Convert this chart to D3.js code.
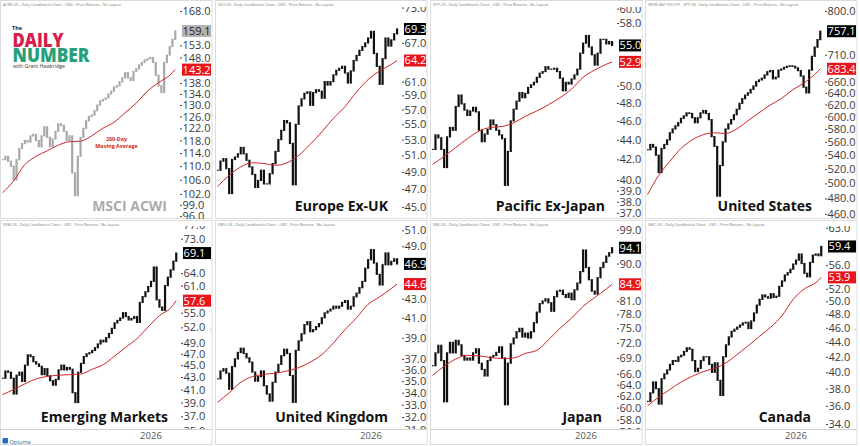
<!DOCTYPE html>
<html>
<head>
<meta charset="utf-8">
<script src="https://cdn.jsdelivr.net/npm/d3@7"></script>
<style>
  body { margin: 0; background: #fff; }
  svg { display: block; font-family: "Open Sans", "Noto Sans", sans-serif; }
</style>
</head>
<body>
<div id="chart-container"></div>
<script>
// ---- data ----
const startDate = "2024-07-22";
const stepDays = 10;
const xDomain = ["2024-07-20", "2026-04-20"];
const yearTick = "2026-01-01";
const maIndex = [0, 4, 8, 12, 16, 20, 24, 28, 32, 36, 40, 44, 48, 52, 56, 60, 62];

const titles = ["MSCI ACWI", "Europe Ex-UK", "Pacific Ex-Japan", "United States",
                "Emerging Markets", "United Kingdom", "Japan", "Canada"];
const headers = [
  "ACWI.US - Daily Candlestick Chart - USD - Price Returns - No Layout",
  "EZU.US - Daily Candlestick Chart - USD - Price Returns - No Layout",
  "EPP.US - Daily Candlestick Chart - USD - Price Returns - No Layout",
  "SPDR S&P 500 ETF - SPY.US - Daily Candlestick Chart - USD - Price Returns - No Layout",
  "EEM.US - Daily Candlestick Chart - USD - Price Returns - No Layout",
  "EWU.US - Daily Candlestick Chart - USD - Price Returns - No Layout",
  "EWJ.US - Daily Candlestick Chart - USD - Price Returns - No Layout",
  "EWC.US - Daily Candlestick Chart - USD - Price Returns - No Layout"
];

const acwiClose = [112,113,111.5,110,106,112,115.5,117,118,117.5,119.5,120,118,116,119.5,122.5,119,116,118.5,121,
  123.5,123,121,118,119.5,108,101.5,113,119,122,124.5,126,126.5,128,130,131.5,132,132.5,134,135,
  136.5,137,138.5,140,142,140,139,142.5,143.5,145,146,147,147.5,148,146,141,137,134.5,146,149,
  152.5,155.5,159.1];
const acwiMA = [102.3,105.7,110.5,113,114.7,116.5,117.6,117.8,119.5,122,124,127.3,130.7,135,138.2,141,143.2];

const eurClose = [49.2,50.3,50.6,49.4,46.5,50.5,50.8,51.2,52,51.2,50.4,49.6,48.7,47.2,48,49.2,47.6,47.6,48.8,50,
  51.5,53,54.2,55.5,55.2,52.5,47.5,55,57.5,58.5,59.3,59.5,57.6,59.4,59.8,59.6,58.6,61,60.5,61,
  62,62.7,63,63.3,62.3,60.8,62.6,64.2,65,65.8,66.4,67,67.8,68.9,65.3,63.3,60.6,64.5,67.8,66.5,
  67.5,68.5,69.3];
const eurMA = [47.3,48.6,49.6,50.1,50.0,49.8,50.1,51.0,52.4,54,55.8,57.4,59.5,61.3,62.6,63.6,64.2];

const pacClose = [43.0,44.5,44.2,43.0,41.2,44.3,45.3,45.0,47.6,48.9,47.9,47.2,46.6,47.1,47.5,47.0,45.0,43.8,44.6,45.1,
  46.1,45.6,45.0,44.5,44.1,39.5,42.8,46.0,47.3,48.2,49.2,48.6,49.1,49.8,50.1,50.4,51,51.5,51.7,52.3,
  52.0,52.0,52.1,51.7,50.9,49.4,50.4,50.2,50.8,51.3,52.0,54.0,55.3,56.3,54.8,53.8,52.5,54.0,55.8,55.8,
  55.2,55.5,55.0];
const pacMA = [41.5,42.3,43.2,44.1,44.9,45.3,45.4,45.8,46.5,47.1,47.8,48.6,49.6,51,51.9,52.6,52.9];

const usClose = [548,556,552,540,515,550,556,563,574,580,585,590,597,601,606,605,598,590,598,606,
  610,605,595,568,553,483,525,560,580,588,595,603,612,622,630,636,640,646,652,660,
  663,666,672,678,680,665,668,681,683,686,688,689,688,685,680,670,650,640,681,707,
  725,740,757.1];
const usMA = [485,511,531,550,563,571,574,573,580,593,606,619,630,645,657,673,683.4];

const emClose = [42.8,44.0,43.8,42.8,40.3,43.3,43.8,42.3,45.0,46.8,46.5,45.6,45.2,44.8,43.4,44.4,43.2,42.4,41.7,42.6,
  44.2,45.0,44.2,44.6,44.3,40.5,39.0,43.8,45.3,46.5,47.0,47.2,47.6,48.1,48.8,49.5,49.2,50.0,50.8,51.8,
  52.9,53.4,53.9,55.0,54.2,53.5,53.8,54.2,53.0,57.2,58.5,59.6,60.8,62.0,65.5,57.8,56.2,55.5,61.0,63.0,
  64.8,67.0,69.1];
const emMA = [40.2,41,41.9,42.7,43.1,43.3,43.4,43.5,44.3,45.1,46.6,48.2,49.8,52.1,54.4,56,57.6];

const ukClose = [35.2,35.9,36.1,35.7,34.3,36.3,37.0,37.6,38.0,37.5,37.1,36.7,35.8,35.0,35.4,35.9,34.6,33.9,33.3,34.9,
  35.8,36.5,37.3,37.9,37.5,35.5,33.2,37.8,38.7,39.4,40.3,40.6,39.6,39.8,40.1,40.4,41.0,41.5,41.7,41.9,
  42.2,42.0,42.2,42.6,42.8,41.9,42.2,43.2,43.6,44.2,44.9,46.4,47.4,48.6,47.0,45.7,44.5,46.8,48.2,46.8,
  47.2,47.5,46.9];
const ukMA = [33.2,34.0,34.9,35.4,35.6,35.7,35.9,36.2,36.7,37.4,38.5,39.8,41,42.4,43.2,44.1,44.6];

const jpClose = [67.5,70.0,71.5,68.5,61.0,70.0,72.1,70.0,72.5,71.6,69.5,68.6,69.0,68.6,70.0,70.8,68.0,66.8,65.6,68.5,
  69.2,69.5,70.1,71.2,69.0,60.5,68.0,71.8,73.0,74.3,75.0,73.2,74.0,73.0,74.3,76.2,78.5,80.4,81.0,81.5,
  80.6,78.7,82.0,83.3,83.5,82.5,81.8,82.8,81.3,83.6,85.2,88.0,93.5,89.0,86.0,83.3,82.6,86.5,89.0,90.3,
  91.9,92.8,94.1];
const jpMA = [65.7,67.4,68.8,69.5,69.4,69.1,68.9,69.0,69.9,70.5,72.6,75,77.2,79.8,81.8,83.8,84.9];

const caClose = [36.5,37.5,38.8,38.0,36.2,39.2,39.8,40.3,41.0,41.5,41.4,42.0,42.2,42.7,43.2,43.0,41.5,40.1,40.5,41.5,
  42.0,42.0,41.0,40.0,41.2,39.0,37.2,42.0,43.6,44.7,45.5,45.8,46.1,46.4,46.7,46.8,45.9,47.0,48.2,49.4,
  50.3,51.0,50.7,50.5,51.2,50.6,50.8,52.4,53.3,54.3,54.7,55.3,56.2,56.9,58.0,56.3,54.6,54.0,56.5,57.8,
  58.0,57.7,59.4];
const caMA = [36.0,37.0,37.9,38.8,39.5,40.1,40.5,41.2,42.3,43.5,44.8,46.1,47.8,50.3,52,53,53.9];

const closes = [acwiClose, eurClose, pacClose, usClose, emClose, ukClose, jpClose, caClose];
const mas = [acwiMA, eurMA, pacMA, usMA, emMA, ukMA, jpMA, caMA];
const yDomains = [[95.5,168.5],[43.82,72.57],[36.56,59.81],[455.0,802.2],
                  [35.25,75.76],[31.06,51.17],[56.5,99.2],[33.47,62.75]];
const yTicks = [
  [168,163,158,153,148,143,138,134,130,126,122,118,114,110,106,102,99,96],
  [73,71,69,67,65,63,61,59,57,55,53,51,49,47,45],
  [60,58,56,54,52,50,48,46,44,42,40,39,38,37],
  [800,770,740,710,680,660,640,620,600,580,560,540,520,500,480,460],
  [77,73,70,67,64,61,58,55,52,49,47,45,43,41,39,37,35],
  [51,49,47,45,43,41,39,37,36,35,34,33,32,31],
  [99,96,93,90,87,84,81,78,75,72,69,66,64,62,60,58,56],
  [63,61,58,56,54,52,50,48,46,44,42,40,38,36,34]
];

// ---- layout ----
const W = 860, H = 446;
const colX = [0, 215, 430, 645];
const rows = [{top: 10, bottom: 218, head: 5, clipTop: 7, clipBottom: 219},
              {top: 229, bottom: 429, head: 225, clipTop: 226, clipBottom: 429}];
const plotRights = [180, 187, 187, 180, 181, 187, 187, 181];
const titleRights = [167, 173, 175, 167, 168, 173, 172, 166];
const fmt = d3.format(".1f");

const parse = d3.timeParse("%Y-%m-%d");
const dates = acwiClose.map((d, i) => d3.timeDay.offset(parse(startDate), i * stepDays));

const svg = d3.select("#chart-container").append("svg")
  .attr("width", W).attr("height", H);

titles.forEach(function(title, p) {
  const row = rows[Math.floor(p / 4)];
  const x0 = colX[p % 4];
  const left = x0 + 2, right = x0 + plotRights[p];
  const isAcwi = p === 0;
  const candleColor = isAcwi ? "#a8a8a8" : "#111";

  const x = d3.scaleTime().domain(xDomain.map(parse)).range([left, right]);
  const y = d3.scaleLog().domain(yDomains[p]).range([row.bottom, row.top]);

  const g = svg.append("g");

  // panel frame
  g.append("rect")
    .attr("x", x0 + 0.5).attr("y", row.head - 4.5)
    .attr("width", 211.5).attr("height", (p < 4 ? 219 : 445) - row.head + 4)
    .attr("fill", "none").attr("stroke", "#dcdcdc").attr("stroke-width", 1);

  g.append("text")
    .attr("x", x0 + 3).attr("y", row.head + 0.5)
    .attr("font-size", 3.8).attr("fill", "#777")
    .text(headers[p]);

  const clipId = "clip" + p;
  svg.append("clipPath").attr("id", clipId).append("rect")
    .attr("x", left).attr("y", row.clipTop)
    .attr("width", right - left).attr("height", row.clipBottom - row.clipTop);
  const axClipId = "axclip" + p;
  svg.append("clipPath").attr("id", axClipId).append("rect")
    .attr("x", right).attr("y", row.clipTop)
    .attr("width", x0 + 212 - right).attr("height", row.clipBottom - row.clipTop);

  const plot = g.append("g").attr("clip-path", "url(#" + clipId + ")");

  // candles: open = previous close
  const close = closes[p];
  const bars = close.map((c, i) => ({date: dates[i], open: i ? close[i - 1] : c, close: c}));
  plot.selectAll("rect.c").data(bars).enter().append("rect")
    .attr("class", "c")
    .attr("x", d => x(d.date) - 1.1)
    .attr("width", 2.2)
    .attr("y", d => y(Math.max(d.open, d.close)) - 0.6)
    .attr("height", d => Math.abs(y(d.open) - y(d.close)) + 1.2)
    .attr("fill", candleColor);

  // 200-day moving average
  const maData = mas[p].map((v, k) => ({date: dates[maIndex[k]], v: v}));
  plot.append("path")
    .datum(maData)
    .attr("fill", "none").attr("stroke", "#d02424").attr("stroke-width", 1)
    .attr("d", d3.line().x(d => x(d.date)).y(d => y(d.v)).curve(d3.curveMonotoneX));

  // last close and MA values
  const tags = [
    {v: close[close.length - 1], fill: isAcwi ? "#b3b3b3" : "#000", text: isAcwi ? "#222" : "#fff"},
    {v: mas[p][mas[p].length - 1], fill: "#e8141c", text: "#fff"}
  ];

  // y axis on the right (ticks hidden by the value boxes are left out)
  const ticks = yTicks[p].filter(t => tags.every(tg => Math.abs(y(t) - y(tg.v)) > 11));
  const ax = g.append("g")
    .attr("clip-path", "url(#" + axClipId + ")")
    .append("g")
    .attr("transform", "translate(" + right + ",0)")
    .call(d3.axisRight(y).tickValues(ticks).tickFormat(fmt).tickSize(2).tickPadding(0.5));
  ax.select(".domain").remove();
  ax.selectAll("line").attr("stroke", "#444");
  ax.selectAll("text")
    .attr("font-size", 11).attr("fill", "#3a3a3a")
    .style("font-family", "'Open Sans', sans-serif");

  tags.forEach(function(t) {
    const yy = y(t.v);
    g.append("rect")
      .attr("x", right + 2).attr("y", yy - 6)
      .attr("width", x0 + 211 - right - 2).attr("height", 12)
      .attr("fill", t.fill);
    g.append("text")
      .attr("x", right + 2.6).attr("y", yy).attr("dy", "0.36em")
      .attr("font-size", 11).attr("fill", t.text)
      .text(fmt(t.v));
  });

  // small collapse marker on the right edge
  g.append("text")
    .attr("x", x0 + 209.5).attr("y", (row.top + row.bottom) / 2 + 2)
    .attr("font-size", 6).attr("fill", "#888").text("‹");

  // title
  g.append("text")
    .attr("x", x0 + titleRights[p]).attr("y", p < 4 ? 211 : 422)
    .attr("text-anchor", "end")
    .attr("font-size", 14).attr("font-weight", 700)
    .attr("fill", isAcwi ? "#ababab" : "#111")
    .text(title);

  // time axis strip for the bottom row
  if (p >= 4) {
    g.append("line")
      .attr("x1", x0 + 0.5).attr("x2", x0 + 212)
      .attr("y1", 429.5).attr("y2", 429.5)
      .attr("stroke", "#d0d0d0");
    const xa = g.append("g")
      .attr("transform", "translate(0,429)")
      .call(d3.axisBottom(x).tickValues([parse(yearTick)]).tickFormat(d3.timeFormat("%Y")).tickSize(0).tickPadding(3));
    xa.select(".domain").remove();
    xa.selectAll("text")
      .attr("font-size", 9.5).attr("fill", "#555")
      .style("font-family", "'Open Sans', sans-serif");
  }
});

// logo and annotation on the ACWI panel
svg.append("text").attr("x", 12).attr("y", 29.5)
  .attr("font-size", 5.5).attr("font-weight", 700).attr("fill", "#222").text("The");
svg.append("text").attr("x", 12.5).attr("y", 46.5)
  .attr("font-size", 19).attr("font-weight", 800).attr("fill", "#d3204c")
  .attr("textLength", 51).attr("lengthAdjust", "spacingAndGlyphs").text("DAILY");
svg.append("text").attr("x", 12.5).attr("y", 61.5)
  .attr("font-size", 19).attr("font-weight", 800).attr("fill", "#27a07a")
  .attr("textLength", 77).attr("lengthAdjust", "spacingAndGlyphs").text("NUMBER");
svg.append("text").attr("x", 13).attr("y", 67.5)
  .attr("font-size", 4.6).attr("fill", "#333")
  .attr("textLength", 52).attr("lengthAdjust", "spacingAndGlyphs").text("with Grant Hawkridge");

svg.append("text").attr("x", 116.5).attr("y", 141).attr("text-anchor", "middle")
  .attr("font-size", 5.3).attr("font-weight", 700).attr("fill", "#d02424").text("200-Day");
svg.append("text").attr("x", 116.5).attr("y", 148).attr("text-anchor", "middle")
  .attr("font-size", 5.3).attr("font-weight", 700).attr("fill", "#d02424").text("Moving Average");

// Optuma credit
svg.append("rect").attr("x", 2.5).attr("y", 438).attr("width", 5.5).attr("height", 5.5)
  .attr("fill", "#1f6fb8").attr("rx", 1);
svg.append("text").attr("x", 9.5).attr("y", 443.5)
  .attr("font-size", 5.5).attr("fill", "#1f5f9a").text("Optuma");
</script>
</body>
</html>
